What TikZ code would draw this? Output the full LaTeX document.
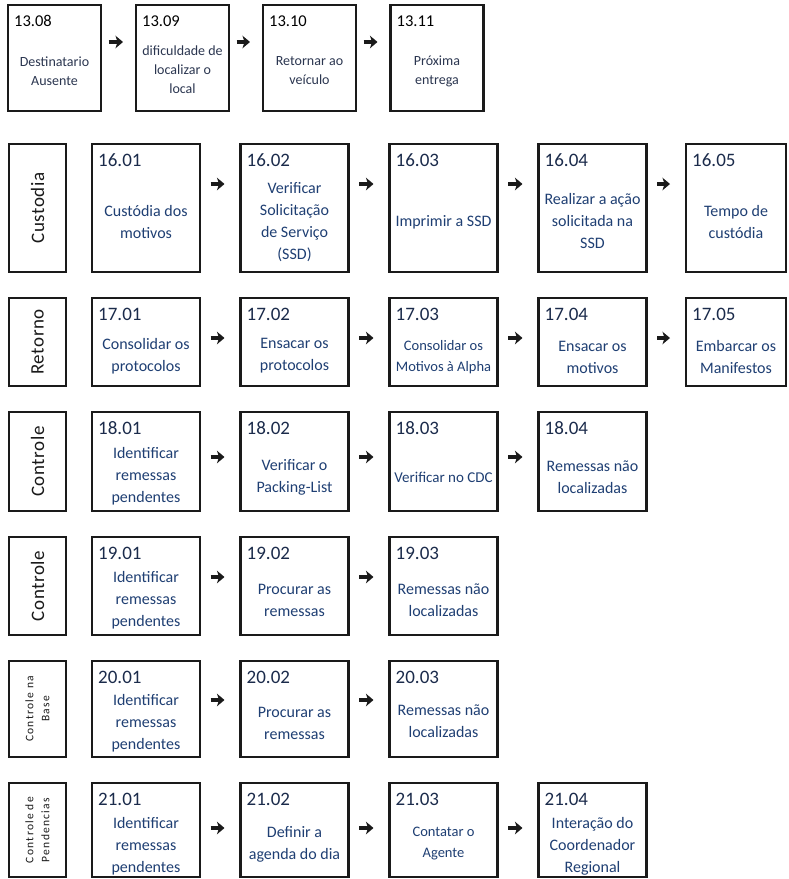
\documentclass[tikz,border=0pt]{standalone}
\usepackage{fontspec}
\setmainfont{Carlito}
\usetikzlibrary{arrows.meta}

\definecolor{ink}{HTML}{1A1A1A}
\definecolor{navy}{HTML}{1F3F73}
\definecolor{numnavy}{HTML}{1B2B4B}
\definecolor{topgray}{HTML}{2B3650}

\tikzset{
  box/.style={draw=ink, line width=2.7pt, inner sep=0pt, outer sep=0pt, fill=white},
  r13/.style={minimum width=93pt, minimum height=106pt},
  r16/.style={minimum width=108pt, minimum height=128pt},
  r17/.style={minimum width=108pt, minimum height=88pt},
  r18/.style={minimum width=108pt, minimum height=99pt},
  r19/.style={minimum width=108pt, minimum height=98pt},
  r20/.style={minimum width=108pt, minimum height=96pt},
  r21/.style={minimum width=108pt, minimum height=94pt},
  lastcol/.style={minimum width=100pt},
  num/.style={anchor=base west, inner sep=0pt, xshift=6pt, yshift=-22pt,
    text=numnavy, font=\fontsize{19}{22}\selectfont},
  body/.style={align=center, inner sep=0pt, text=navy, font=\fontsize{16}{22}\selectfont},
  smallbody/.style={body, font=\fontsize{14.5}{21}\selectfont},
  cdcbody/.style={body, font=\fontsize{15}{21}\selectfont},
  topbody/.style={align=center, inner sep=0pt, text=topgray, font=\fontsize{14}{19}\selectfont},
  lane/.style={rotate=90, align=center, inner sep=0pt, text=ink},
  lanebig/.style={lane, font=\fontsize{19}{22}\selectfont\addfontfeature{LetterSpace=3}},
  lanesmall/.style={lane, font=\fontsize{11.5}{16}\selectfont\addfontfeature{LetterSpace=11}},
  arr/.style={draw=ink, line width=3.6pt, -{Stealth[length=7.5pt,width=12.5pt,inset=2pt]},
    shorten <=10.5pt, shorten >=16pt},
  arrtop/.style={arr, shorten <=7.5pt, shorten >=13pt},
}

% #1 id, #2 number, #3 cx, #4 cy, #5 size style, #6 text y, #7 text style, #8 text
\newcommand\procbox[8]{%
  \node[box,#5] (b#1) at (#3,#4) {};
  \node[num] (n#1) at (b#1.north west) {#2};
  \node[#7] (t#1) at (#3,#6) {#8};
}
% #1 id, #2 cy, #3 height, #4 style, #5 text
\newcommand\lanebox[5]{%
  \node[box, minimum width=57pt, minimum height=#3pt] (l#1) at (37.5,#2) {};
  \node[#4] (lt#1) at (l#1) {#5};
}

\begin{document}
\begin{tikzpicture}[x=1pt,y=-1pt]
\useasboundingbox[fill=white] (0,0) rectangle (788,879);

% ---- 13: delivery attempt ----
\begin{scope}[num/.style={anchor=base west, inner sep=0pt, xshift=6pt, yshift=-21pt,
    text=black, font=\fontsize{16.5}{20}\selectfont}]
\procbox{1308}{13.08}{54.5}{58}{r13}{71}{topbody}{Destinatario\\Ausente}
\procbox{1309}{13.09}{182.5}{58}{r13}{70}{topbody}{dificuldade de\\localizar o\\local}
\procbox{1310}{13.10}{309.5}{58}{r13}{71}{topbody}{Retornar ao\\veículo}
\procbox{1311}{13.11}{437}{58}{r13}{71}{topbody}{Próxima\\entrega}
\end{scope}
\draw[arrtop] (b1308.east |- 0,42) -- (b1309.west |- 0,42);
\draw[arrtop] (b1309.east |- 0,42) -- (b1310.west |- 0,42);
\draw[arrtop] (b1310.east |- 0,42) -- (b1311.west |- 0,42);

% ---- 16: Custodia ----
\lanebox{16}{208}{128}{lanebig}{Custodia}
\procbox{1601}{16.01}{146}{208}{r16}{222}{body}{Custódia dos\\motivos}
\procbox{1602}{16.02}{294.5}{208}{r16}{222}{body}{Verificar\\Solicitação\\de Serviço\\(SSD)}
\procbox{1603}{16.03}{443.5}{208}{r16}{222}{body}{Imprimir a SSD}
\procbox{1604}{16.04}{592.5}{208}{r16}{221}{body}{Realizar a ação\\solicitada na\\SSD}
\procbox{1605}{16.05}{736}{208}{r16,lastcol}{222}{body}{Tempo de\\custódia}
\draw[arr] (b1601.east |- 0,184) -- (b1602.west |- 0,184);
\draw[arr] (b1602.east |- 0,184) -- (b1603.west |- 0,184);
\draw[arr] (b1603.east |- 0,184) -- (b1604.west |- 0,184);
\draw[arr] (b1604.east |- 0,184) -- (b1605.west |- 0,184);

% ---- 17: Retorno ----
\lanebox{17}{342}{88}{lanebig}{Retorno}
\procbox{1701}{17.01}{146}{342}{r17}{356}{body}{Consolidar os\\protocolos}
\procbox{1702}{17.02}{294.5}{342}{r17}{356}{body}{Ensacar os\\protocolos}
\procbox{1703}{17.03}{443.5}{342}{r17}{357}{smallbody}{Consolidar os\\Motivos à Alpha}
\procbox{1704}{17.04}{592.5}{342}{r17}{357}{body}{Ensacar os\\motivos}
\procbox{1705}{17.05}{736}{342}{r17,lastcol}{357}{body}{Embarcar os\\Manifestos}
\draw[arr] (b1701.east |- 0,338) -- (b1702.west |- 0,338);
\draw[arr] (b1702.east |- 0,338) -- (b1703.west |- 0,338);
\draw[arr] (b1703.east |- 0,338) -- (b1704.west |- 0,338);
\draw[arr] (b1704.east |- 0,338) -- (b1705.west |- 0,338);

% ---- 18: Controle ----
\lanebox{18}{461.5}{99}{lanebig}{Controle}
\procbox{1801}{18.01}{146}{461.5}{r18}{476}{body}{Identificar\\remessas\\pendentes}
\procbox{1802}{18.02}{294.5}{461.5}{r18}{477}{body}{Verificar o\\Packing-List}
\procbox{1803}{18.03}{443.5}{461.5}{r18}{477}{cdcbody}{Verificar no CDC}
\procbox{1804}{18.04}{592.5}{461.5}{r18}{477}{body}{Remessas não\\localizadas}
\draw[arr] (b1801.east |- 0,457) -- (b1802.west |- 0,457);
\draw[arr] (b1802.east |- 0,457) -- (b1803.west |- 0,457);
\draw[arr] (b1803.east |- 0,457) -- (b1804.west |- 0,457);

% ---- 19: Controle ----
\lanebox{19}{586}{98}{lanebig}{Controle}
\procbox{1901}{19.01}{146}{586}{r19}{600}{body}{Identificar\\remessas\\pendentes}
\procbox{1902}{19.02}{294.5}{586}{r19}{600}{body}{Procurar as\\remessas}
\procbox{1903}{19.03}{443.5}{586}{r19}{600}{body}{Remessas não\\localizadas}
\draw[arr] (b1901.east |- 0,577) -- (b1902.west |- 0,577);
\draw[arr] (b1902.east |- 0,577) -- (b1903.west |- 0,577);

% ---- 20: Controle na Base ----
\lanebox{20}{709}{96}{lanesmall}{Controle na\\Base}
\procbox{2001}{20.01}{146}{709}{r20}{723}{body}{Identificar\\remessas\\pendentes}
\procbox{2002}{20.02}{294.5}{709}{r20}{723}{body}{Procurar as\\remessas}
\procbox{2003}{20.03}{443.5}{709}{r20}{721}{body}{Remessas não\\localizadas}
\draw[arr] (b2001.east |- 0,700) -- (b2002.west |- 0,700);
\draw[arr] (b2002.east |- 0,700) -- (b2003.west |- 0,700);

% ---- 21: Controle de Pendencias ----
\lanebox{21}{830}{94}{lanesmall}{Controle de\\Pendencias}
\procbox{2101}{21.01}{146}{830}{r21}{846}{body}{Identificar\\remessas\\pendentes}
\procbox{2102}{21.02}{294.5}{830}{r21}{844}{body}{Definir a\\agenda do dia}
\procbox{2103}{21.03}{443.5}{830}{r21}{844}{smallbody}{Contatar o\\Agente}
\procbox{2104}{21.04}{592.5}{830}{r21}{846}{body}{Interação do\\Coordenador\\Regional}
\draw[arr] (b2101.east |- 0,828) -- (b2102.west |- 0,828);
\draw[arr] (b2102.east |- 0,828) -- (b2103.west |- 0,828);
\draw[arr] (b2103.east |- 0,828) -- (b2104.west |- 0,828);

\end{tikzpicture}
\end{document}
